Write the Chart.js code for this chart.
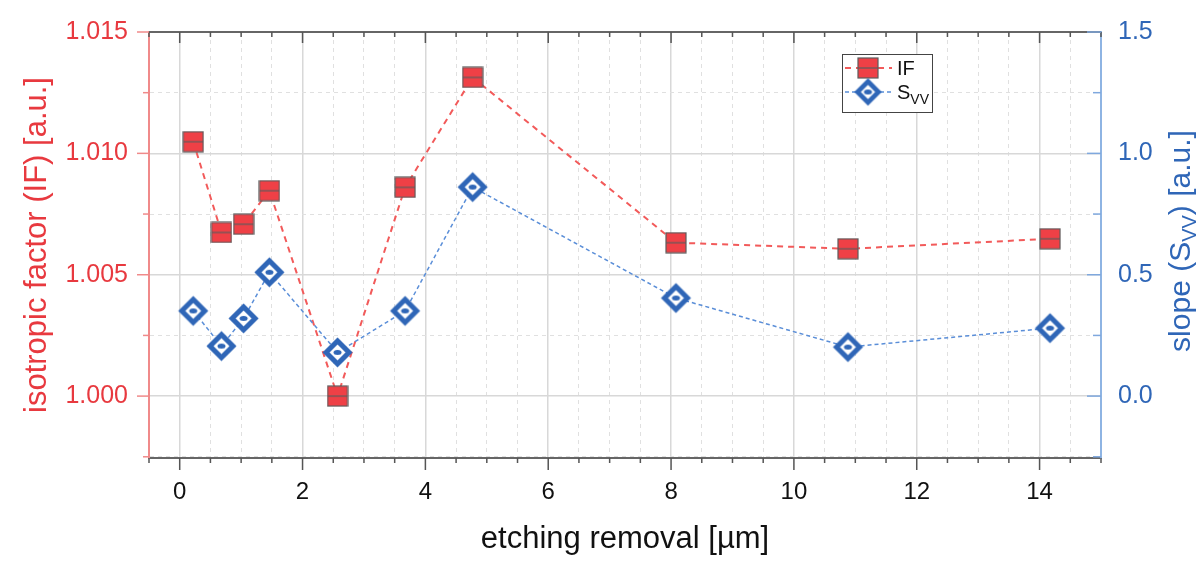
<!DOCTYPE html>
<html lang="en">
<head>
<meta charset="UTF-8">
<title>Isotropic factor and slope vs etching removal</title>
<script src="https://cdn.jsdelivr.net/npm/chart.js"></script>
<style>
  html, body { margin: 0; padding: 0; background: #fff; }
  #wrap { width: 1200px; height: 567px; }
</style>
</head>
<body>
<div id="wrap"><canvas id="myChart" width="1200" height="567"></canvas></div>
<script>
// data
const removal = [0.22, 0.68, 1.04, 1.46, 2.57, 3.67, 4.77, 8.08, 10.88, 14.17];
const isoFactor = [1.01048, 1.00674, 1.00708, 1.00846, 1.0000, 1.0086, 1.01313, 1.00632, 1.00607, 1.00648];
const slopeSvv = [0.351, 0.206, 0.32, 0.51, 0.18, 0.351, 0.861, 0.404, 0.202, 0.28];

const xTitle = 'etching removal [µm]';
const leftTitle = 'isotropic factor (IF) [a.u.]';
const rightTitle = ['slope (S', 'VV', ') [a.u.]'];
const legendLabels = [['IF', ''], ['S', 'VV']];

const FONT = "'Liberation Sans', Arial, sans-serif";
const RED = '#EF4046';
const RED_TXT = '#E8393F';
const BLUE = '#2F66B7';

function isMult(v, step) {
    const r = v / step;
    return Math.abs(r - Math.round(r)) < 1e-6;
}

// markers
function squareMarker(s) {
    const c = document.createElement('canvas');
    c.width = c.height = s + 2;
    const g = c.getContext('2d');
    g.fillStyle = RED;
    g.fillRect(1, 1, s, s);
    g.strokeStyle = '#5c5c5c';
    g.lineWidth = 1.2;
    g.strokeRect(1, 1, s, s);
    g.beginPath();
    g.moveTo(1, 1 + s / 2);
    g.lineTo(1 + s, 1 + s / 2);
    g.stroke();
    return c;
}

function diamondMarker(h, w) {
    const size = Math.ceil(2 * h + 2 * w + 2);
    const c = document.createElement('canvas');
    c.width = c.height = size;
    const g = c.getContext('2d');
    const m = size / 2;
    g.beginPath();
    g.moveTo(m, m - h);
    g.lineTo(m + h, m);
    g.lineTo(m, m + h);
    g.lineTo(m - h, m);
    g.closePath();
    g.fillStyle = '#fff';
    g.fill();
    g.lineWidth = w;
    g.lineJoin = 'miter';
    g.strokeStyle = BLUE;
    g.stroke();
    g.beginPath();
    g.ellipse(m, m, 4, 2.5, 0, 0, Math.PI * 2);
    g.fillStyle = BLUE;
    g.fill();
    return c;
}

const sqMark = squareMarker(20);
const diaMark = diamondMarker(11.5, 5);
const diaMarkSmall = diamondMarker(10.5, 4.6);

// no extra room for edge labels, the plot area is set by hand
function fixSize(w, h) {
    return s => {
        if (w) s.width = w;
        if (h) s.height = h;
        s.paddingTop = 0;
        s.paddingBottom = 0;
        s.paddingLeft = 0;
        s.paddingRight = 0;
    };
}

const decor = {
    id: 'decor',
    afterDraw(chart) {
        const {ctx, chartArea: a, scales} = chart;
        const x = scales.x, yL = scales.yL, yR = scales.yR;
        ctx.save();

        // top axis line
        ctx.strokeStyle = '#666';
        ctx.lineWidth = 2;
        ctx.beginPath();
        ctx.moveTo(a.left, a.top);
        ctx.lineTo(a.right, a.top);
        ctx.stroke();

        // tick marks
        ctx.lineWidth = 1.5;
        ctx.strokeStyle = '#555';
        x.ticks.forEach(t => {
            const px = x.getPixelForValue(t.value);
            const major = isMult(t.value, 2);
            ctx.beginPath();
            ctx.moveTo(px, a.bottom);
            ctx.lineTo(px, a.bottom + (major ? 12 : 5));
            ctx.moveTo(px, a.top);
            ctx.lineTo(px, a.top + (major ? 11 : 5));
            ctx.stroke();
        });
        ctx.strokeStyle = '#F08A8A';
        yL.ticks.forEach(t => {
            const py = yL.getPixelForValue(t.value);
            const major = isMult(t.value, 0.005);
            ctx.beginPath();
            ctx.moveTo(a.left, py);
            ctx.lineTo(a.left - (major ? 12 : 6), py);
            ctx.stroke();
        });
        ctx.strokeStyle = '#7FA8DE';
        yR.ticks.forEach(t => {
            const py = yR.getPixelForValue(t.value);
            const major = isMult(t.value, 0.5);
            ctx.beginPath();
            ctx.moveTo(a.right, py);
            ctx.lineTo(a.right - (major ? 14 : 8), py);
            ctx.stroke();
        });

        // right axis title with subscript
        ctx.save();
        ctx.translate(1190, (a.top + a.bottom) / 2 - 4);
        ctx.rotate(-Math.PI / 2);
        ctx.fillStyle = BLUE;
        ctx.textBaseline = 'alphabetic';
        const big = '30px ' + FONT, small = '20px ' + FONT;
        ctx.font = big;
        const w1 = ctx.measureText(rightTitle[0]).width;
        const w3 = ctx.measureText(rightTitle[2]).width;
        ctx.font = small;
        const w2 = ctx.measureText(rightTitle[1]).width;
        let tx = -(w1 + w2 + w3) / 2;
        ctx.font = big;
        ctx.fillText(rightTitle[0], tx, 0);
        tx += w1;
        ctx.font = small;
        ctx.fillText(rightTitle[1], tx, 6);
        tx += w2;
        ctx.font = big;
        ctx.fillText(rightTitle[2], tx, 0);
        ctx.restore();

        // legend
        const lx = 842, ly = 54, lw = 90, lh = 58;
        ctx.fillStyle = '#fff';
        ctx.fillRect(lx, ly, lw, lh);
        ctx.strokeStyle = '#444';
        ctx.lineWidth = 1;
        ctx.strokeRect(lx + 0.5, ly + 0.5, lw, lh);
        const rows = [
            {y: 68, color: '#F25A5A', dash: [6, 5], width: 2, mark: sqMark},
            {y: 92, color: '#5A8ED8', dash: [4, 3], width: 1.5, mark: diaMarkSmall}
        ];
        rows.forEach((r, i) => {
            ctx.strokeStyle = r.color;
            ctx.lineWidth = r.width;
            ctx.setLineDash(r.dash);
            ctx.beginPath();
            ctx.moveTo(845, r.y);
            ctx.lineTo(892, r.y);
            ctx.stroke();
            ctx.setLineDash([]);
            ctx.drawImage(r.mark, 868 - r.mark.width / 2, r.y - r.mark.height / 2);
            ctx.fillStyle = '#111';
            ctx.textBaseline = 'alphabetic';
            ctx.font = '20px ' + FONT;
            ctx.fillText(legendLabels[i][0], 897, r.y + 7);
            if (legendLabels[i][1]) {
                const sw = ctx.measureText(legendLabels[i][0]).width;
                ctx.font = '14px ' + FONT;
                ctx.fillText(legendLabels[i][1], 897 + sw, r.y + 12);
            }
        });
        ctx.restore();
    }
};

function gridColor(step, major, minor) {
    return c => (c.tick && isMult(c.tick.value, step)) ? major : minor;
}

const ctx = document.getElementById('myChart').getContext('2d');
new Chart(ctx, {
    type: 'line',
    data: {
        datasets: [
            {
                label: 'IF',
                data: removal.map((v, i) => ({x: v, y: isoFactor[i]})),
                yAxisID: 'yL',
                borderColor: '#F25A5A',
                borderWidth: 2,
                borderDash: [6, 5],
                pointStyle: sqMark,
                pointRadius: 10,
                order: 2
            },
            {
                label: 'S_VV',
                data: removal.map((v, i) => ({x: v, y: slopeSvv[i]})),
                yAxisID: 'yR',
                borderColor: '#5A8ED8',
                borderWidth: 1.5,
                borderDash: [4, 3],
                pointStyle: diaMark,
                pointRadius: 12,
                order: 1
            }
        ]
    },
    options: {
        responsive: false,
        animation: false,
        layout: { padding: { top: 32, left: 0, right: 0, bottom: 0 } },
        plugins: {
            legend: { display: false },
            tooltip: { enabled: false }
        },
        scales: {
            x: {
                type: 'linear',
                position: 'bottom',
                min: -0.5,
                max: 15,
                afterFit: fixSize(0, 109),
                ticks: {
                    stepSize: 0.5,
                    includeBounds: false,
                    autoSkip: false,
                    maxRotation: 0,
                    padding: 20,
                    color: '#111',
                    font: { family: FONT, size: 24 },
                    callback: v => isMult(v, 2) ? String(v) : ''
                },
                grid: {
                    drawTicks: false,
                    color: gridColor(2, '#d8d8d8', '#e0e0e0'),
                    lineWidth: c => (c.tick && isMult(c.tick.value, 2)) ? 1.5 : 1
                },
                border: {
                    color: '#666',
                    width: 2,
                    dash: c => (c.tick && isMult(c.tick.value, 2)) ? [] : [4, 4]
                },
                title: {
                    display: true,
                    text: xTitle,
                    color: '#111',
                    font: { family: FONT, size: 31 },
                    padding: { bottom: 9 }
                }
            },
            yL: {
                type: 'linear',
                position: 'left',
                min: 0.99745,
                max: 1.015,
                afterFit: fixSize(149, 0),
                ticks: {
                    stepSize: 0.0025,
                    includeBounds: false,
                    autoSkip: false,
                    padding: 21,
                    color: RED_TXT,
                    font: { family: FONT, size: 25 },
                    callback: v => isMult(v, 0.005) ? v.toFixed(3) : ''
                },
                grid: {
                    drawTicks: false,
                    color: gridColor(0.005, '#d8d8d8', '#e0e0e0'),
                    lineWidth: c => (c.tick && isMult(c.tick.value, 0.005)) ? 1.5 : 1
                },
                border: {
                    color: '#F08A8A',
                    width: 2,
                    dash: c => (c.tick && isMult(c.tick.value, 0.005)) ? [] : [4, 4]
                },
                title: {
                    display: true,
                    text: leftTitle,
                    color: RED_TXT,
                    font: { family: FONT, size: 31 },
                    padding: { top: 19 }
                }
            },
            yR: {
                type: 'linear',
                position: 'right',
                min: -0.255,
                max: 1.5,
                afterFit: fixSize(99, 0),
                ticks: {
                    stepSize: 0.25,
                    includeBounds: false,
                    autoSkip: false,
                    padding: 17,
                    color: BLUE,
                    font: { family: FONT, size: 25 },
                    callback: v => isMult(v, 0.5) ? v.toFixed(1) : ''
                },
                grid: { drawTicks: false, drawOnChartArea: false },
                border: { color: '#8EB4E3', width: 2 }
            }
        }
    },
    plugins: [decor]
});
</script>
</body>
</html>
